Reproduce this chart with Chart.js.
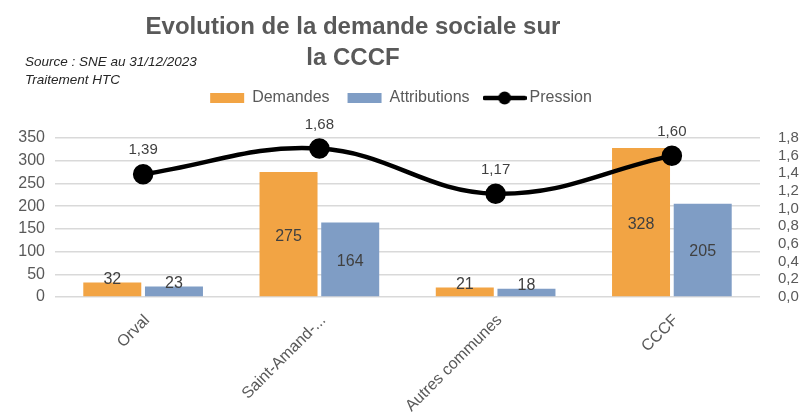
<!DOCTYPE html>
<html>
<head>
<meta charset="utf-8">
<script src="https://cdn.jsdelivr.net/npm/chart.js@4.4.1/dist/chart.umd.min.js"></script>
<style>
html,body{margin:0;padding:0;background:#fff;}
#wrap{width:802px;height:416px;position:relative;}
</style>
</head>
<body>
<div id="wrap"><canvas id="c" width="802" height="416"></canvas></div>
<script>
const categories = ["Orval", "Saint-Amand-...", "Autres communes", "CCCF"];
const demandes = [32, 275, 21, 328];
const attributions = [23, 164, 18, 205];
const pression = [1.39, 1.68, 1.17, 1.60];
const titleLines = ["Evolution de la demande sociale sur", "la CCCF"];
const sourceLines = ["Source : SNE au 31/12/2023", "Traitement HTC"];

const ORANGE = '#F2A444';
const BLUE = '#7F9DC5';
const TXT = '#595959';
const FONT = "'Liberation Sans', Arial, sans-serif";

// legend icon for the line series
const lineIcon = document.createElement('canvas');
lineIcon.width = 44; lineIcon.height = 16;
(function(){
  const g = lineIcon.getContext('2d');
  g.strokeStyle = '#000'; g.lineWidth = 4.5; g.lineCap = 'round';
  g.beginPath(); g.moveTo(2,8); g.lineTo(42,8); g.stroke();
  g.fillStyle = '#000'; g.beginPath(); g.arc(22,8,6.5,0,Math.PI*2); g.fill();
})();

const fmt = v => v.toFixed(2).replace('.', ',');

const extras = {
  id: 'extras',
  beforeInit(chart) {
    const fit = chart.legend.fit;
    chart.legend.fit = function() { fit.call(this); this.height = 66; };
  },
  afterDatasetsDraw(chart) {
    const ctx = chart.ctx;
    ctx.save();
    ctx.textAlign = 'center';
    ctx.fillStyle = '#404040';
    ctx.font = '16px ' + FONT;
    [0,1].forEach(di => {
      const meta = chart.getDatasetMeta(di);
      meta.data.forEach((el, i) => {
        const v = chart.data.datasets[di].data[i];
        if (v < 60) {
          ctx.textBaseline = 'bottom';
          ctx.fillText(String(v), el.x, el.y + 5);
        } else {
          ctx.textBaseline = 'middle';
          ctx.fillText(String(v), el.x, (el.y + el.base) / 2 + 2);
        }
      });
    });
    const lm = chart.getDatasetMeta(2);
    ctx.font = '15px ' + FONT;
    ctx.textBaseline = 'middle';
    lm.data.forEach((el, i) => {
      ctx.fillText(fmt(chart.data.datasets[2].data[i]), el.x, el.y - 24);
    });
    ctx.restore();
  },
  afterDraw(chart) {
    const ctx = chart.ctx;
    ctx.save();
    ctx.fillStyle = TXT;
    ctx.textAlign = 'center';
    ctx.textBaseline = 'middle';
    ctx.font = 'bold 24px ' + FONT;
    ctx.fillText(titleLines[0], 353, 27);
    ctx.fillText(titleLines[1], 353, 58);
    ctx.fillStyle = '#262626';
    ctx.textAlign = 'left';
    ctx.font = 'italic 13.5px ' + FONT;
    ctx.fillText(sourceLines[0], 25, 62);
    ctx.fillText(sourceLines[1], 25, 80);
    ctx.restore();
  }
};

new Chart(document.getElementById('c'), {
  data: {
    labels: categories,
    datasets: [
      { type: 'bar', label: 'Demandes', data: demandes, backgroundColor: ORANGE, yAxisID: 'y', order: 2,
        categoryPercentage: 0.7, barPercentage: 0.94 },
      { type: 'bar', label: 'Attributions', data: attributions, backgroundColor: BLUE, yAxisID: 'y', order: 2,
        categoryPercentage: 0.7, barPercentage: 0.94 },
      { type: 'line', label: 'Pression', data: pression, borderColor: '#000', backgroundColor: '#000',
        borderWidth: 4.5, pointRadius: 8, pointBackgroundColor: '#000', tension: 0.4, yAxisID: 'y1', order: 1 }
    ]
  },
  options: {
    responsive: false,
    animation: false,
    layout: { padding: { top: 72, left: 0, right: 0, bottom: 0 } },
    plugins: {
      legend: {
        position: 'top',
        labels: {
          color: TXT,
          font: { family: FONT, size: 16 },
          usePointStyle: true,
          pointStyleWidth: 34,
          boxHeight: 10,
          padding: 18,
          generateLabels(chart) {
            return chart.data.datasets.map((ds, i) => ({
              text: ds.label,
              fillStyle: ds.type === 'bar' ? ds.backgroundColor : '#000',
              strokeStyle: 'rgba(0,0,0,0)',
              lineWidth: 0,
              pointStyle: ds.type === 'bar' ? 'rect' : lineIcon,
              datasetIndex: i,
              hidden: false,
              fontColor: TXT
            }));
          }
        }
      },
      tooltip: { enabled: false }
    },
    scales: {
      x: {
        grid: { display: false, drawTicks: false },
        border: { display: false },
        afterFit(s) { s.height = 119; },
        ticks: { color: TXT, font: { family: FONT, size: 16 }, minRotation: 45, maxRotation: 45, padding: 14, labelOffset: 4 }
      },
      y: {
        position: 'left',
        min: 0, max: 350,
        grid: { color: '#D9D9D9', lineWidth: 1.5, drawTicks: false },
        border: { display: false },
        afterFit(s) { s.width = 55; },
        ticks: { stepSize: 50, color: TXT, font: { family: FONT, size: 16 }, padding: 10 }
      },
      y1: {
        position: 'right',
        min: 0, max: 1.8,
        grid: { display: false, drawTicks: false },
        border: { display: false },
        afterFit(s) { s.width = 42; },
        ticks: { stepSize: 0.2, autoSkip: false, color: TXT, font: { family: FONT, size: 15 }, padding: 18,
          callback: v => v.toFixed(1).replace('.', ',') }
      }
    }
  },
  plugins: [extras]
});
</script>
</body>
</html>
